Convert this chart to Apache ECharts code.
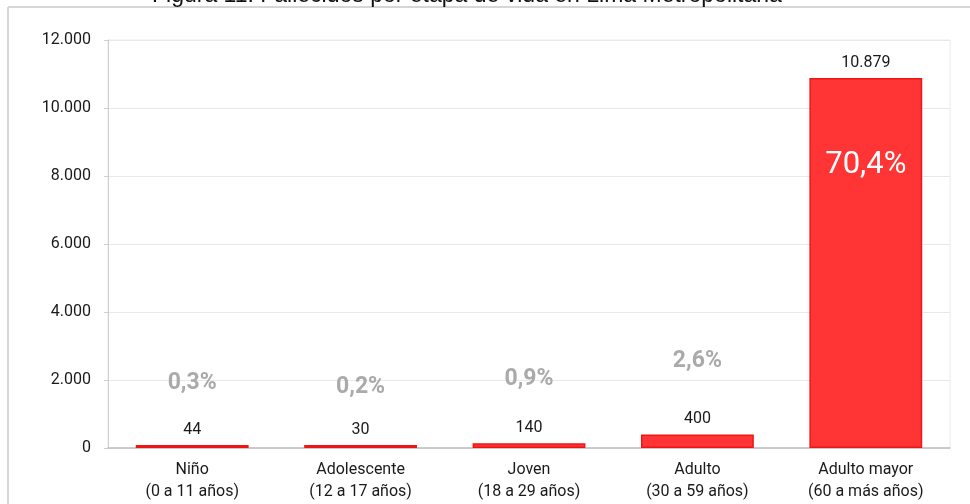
<!DOCTYPE html>
<html>
<head>
<meta charset="utf-8">
<script src="https://cdn.jsdelivr.net/npm/echarts@6/dist/echarts.min.js"></script>
<style>
  html, body { margin: 0; padding: 0; background: #fff; }
  #chart { width: 970px; height: 504px; }
</style>
</head>
<body>
<div id="chart"></div>
<script>
// Deaths by life stage, Lima Metropolitana
const categories = [
  'Niño\n(0 a 11 años)',
  'Adolescente\n(12 a 17 años)',
  'Joven\n(18 a 29 años)',
  'Adulto\n(30 a 59 años)',
  'Adulto mayor\n(60 a más años)'
];
const deaths = [44, 30, 140, 400, 10879];
const shares = ['0,3%', '0,2%', '0,9%', '2,6%', '70,4%'];
const yTicks = { min: 0, max: 12000, interval: 2000 };

// gap between bar top and the share label (px), per bar
const shareGap = [50, 46, 52, 62, 72];

const fmt = v => String(v).replace(/\B(?=(\d{3})+(?!\d))/g, '.');

const chart = echarts.init(document.getElementById('chart'));

const shareData = deaths.map((v, i) => {
  const last = i === deaths.length - 1;
  return {
    value: v,
    label: last ? {
      position: 'insideTop',
      distance: shareGap[i],
      color: '#ffffff',
      fontSize: 31,
      fontWeight: 'normal'
    } : {
      position: 'top',
      distance: shareGap[i]
    }
  };
});

chart.setOption({
  animation: false,
  textStyle: { fontFamily: 'Roboto' },
  title: {
    text: 'Figura 11: Fallecidos por etapa de vida en Lima Metropolitana',
    left: 147,
    top: -21,
    textStyle: { fontFamily: 'Liberation Sans', fontSize: 23, fontWeight: 'normal', color: '#111' }
  },
  graphic: [
    { type: 'line', shape: { x1: 8, y1: 7, x2: 970, y2: 7 }, style: { stroke: '#d6d6d6', lineWidth: 2 } },
    { type: 'line', shape: { x1: 8, y1: 7, x2: 8, y2: 504 }, style: { stroke: '#d6d6d6', lineWidth: 2 } }
  ],
  grid: {
    left: 108, right: 20, top: 40, bottom: 56,
    show: true, borderColor: '#ececec', borderWidth: 1
  },
  xAxis: {
    type: 'category',
    data: categories,
    axisLine: { lineStyle: { color: '#bdbdbd', width: 1.5 } },
    axisTick: { show: false },
    axisLabel: { color: '#1a1a1a', fontSize: 16, lineHeight: 22, margin: 11 }
  },
  yAxis: {
    type: 'value',
    min: yTicks.min, max: yTicks.max, interval: yTicks.interval,
    axisLine: { show: true, lineStyle: { color: '#cfcfcf' } },
    axisTick: { show: true, length: 4, lineStyle: { color: '#cfcfcf' } },
    splitLine: { lineStyle: { color: '#e8e8e8' } },
    axisLabel: { color: '#1a1a1a', fontSize: 16, margin: 17, formatter: fmt }
  },
  series: [
    {
      type: 'bar',
      data: deaths,
      barCategoryGap: '33%',
      barMinHeight: 3,
      itemStyle: { color: '#ff3535', borderColor: '#f01515', borderWidth: 1.5 },
      label: {
        show: true, position: 'top', distance: 7,
        color: '#1a1a1a', fontSize: 16, formatter: p => fmt(p.value)
      },
      z: 2
    },
    {
      type: 'bar',
      data: shareData,
      barGap: '-100%',
      barCategoryGap: '33%',
      barMinHeight: 3,
      itemStyle: { color: 'rgba(0,0,0,0)' },
      label: {
        show: true,
        color: '#aaaaaa', fontSize: 23, fontWeight: 'bold',
        formatter: p => shares[p.dataIndex]
      },
      z: 3
    }
  ]
});
</script>
</body>
</html>
